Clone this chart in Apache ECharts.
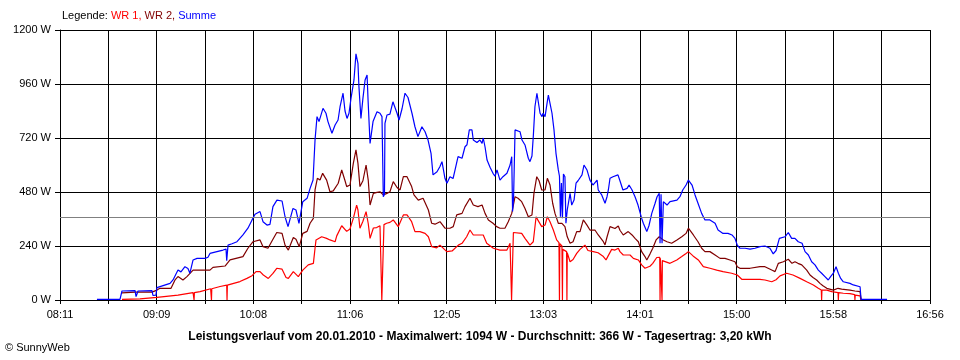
<!DOCTYPE html>
<html><head><meta charset="utf-8">
<script src="https://cdn.jsdelivr.net/npm/echarts@6/dist/echarts.min.js"></script>
<style>html,body{margin:0;padding:0;background:#fff}#c{width:960px;height:360px}</style>
</head><body><div id="c"></div>
<script>
// time in minutes after midnight, values in W
const startMinute = 491; // 08:11
const endMinute = 1016;  // 16:56
const xTickLabels = ['08:11','09:09','10:08','11:06','12:05','13:03','14:01','15:00','15:58','16:56'];
const averageW = 366;
const seriesNames = ['WR 1', 'WR 2', 'Summe'];

const wr1Points = [[528.4,3],[539.3,5],[549.5,12],[562.2,22],[571.3,33],[571.7,33],[571.9,0],[572.1,33],[575.5,37],[581.9,50],[582.2,50],[582.4,0],[582.6,50],[587.6,60],[591.6,66],[591.8,0],[592.0,66],[592.4,70],[599.6,82],[603.8,96],[606.9,108],[608.1,111],[609.3,126],[611.7,126],[613.7,111],[616.7,96],[619.5,118],[621.8,141],[622.7,145],[625.0,137],[627.4,100],[628.8,96],[631.8,126],[634.8,104],[637.5,133],[640.8,156],[643.9,163],[644.9,230],[645.5,267],[648.9,281],[651.9,274],[653.9,267],[657.0,259],[658.0,285],[661.0,330],[664.0,305],[666.0,316],[668.0,363],[670.0,422],[670.8,400],[672.0,319],[673.8,350],[675.7,393],[677.0,340],[678.1,274],[680.1,320],[682.1,322],[684.1,330],[685.0,326],[685.2,0],[686.3,0],[686.5,335],[688.1,341],[690.1,345],[692.1,356],[695.1,326],[698.2,378],[700.4,378],[703.2,348],[705.2,304],[708.2,304],[711.3,296],[713.3,281],[715.3,237],[718.3,232],[720.3,244],[721.3,244],[724.4,215],[727.6,218],[731.4,244],[733.6,252],[736.4,281],[738.4,311],[740.4,289],[746.4,289],[748.5,252],[752.5,230],[756.5,222],[760.7,222],[762.6,252],[763.4,252],[763.5,0],[764.5,0],[764.6,300],[765.6,304],[769.6,296],[771.6,274],[774.6,244],[776.6,259],[778.3,370],[779.4,355],[781.7,326],[783.7,333],[785.1,370],[786.7,348],[788.7,311],[790.7,267],[792.1,255],[792.3,255],[792.4,0],[792.6,250],[793.9,240],[794.1,240],[794.2,0],[794.4,225],[796.7,215],[796.8,215],[796.9,0],[797.1,210],[798.8,170],[800.6,180],[802.8,207],[804.8,225],[807.8,244],[809.6,220],[812.8,215],[815.7,210],[818.9,193],[820.5,178],[821.7,195],[823.9,225],[825.9,222],[827.9,230],[828.9,215],[830.9,200],[835.0,200],[837.0,185],[840.0,178],[842.0,156],[844.0,141],[845.1,133],[847.0,150],[848.7,163],[851.1,189],[852.9,190],[853.1,0],[853.3,185],[854.1,180],[854.3,0],[854.5,175],[855.1,170],[859.1,163],[863.2,178],[866.2,193],[868.8,207],[870.2,215],[873.0,196],[876.2,178],[879.2,148],[883.2,141],[887.3,133],[891.1,126],[896.3,119],[899.7,111],[902.4,92],[907.4,92],[913.4,92],[916.4,89],[920.5,81],[921.4,78],[923.1,90],[925.5,107],[929.5,119],[933.3,111],[937.6,96],[941.6,81],[945.6,67],[948.6,52],[950.4,44],[950.6,0],[950.8,44],[953.7,44],[956.7,37],[960.5,33],[960.7,0],[960.9,33],[963.7,30],[967.7,28],[970.5,24],[970.7,0],[970.9,22],[973.8,18],[974.4,0]];

const wr2Points = [[528.4,32],[536.3,35],[546.5,35],[549.5,44],[551.3,52],[558.0,52],[560.4,89],[562.2,104],[565.2,89],[567.6,104],[571.3,133],[578.5,133],[581.5,133],[583.3,145],[590.6,151],[593.6,178],[601.4,193],[604.4,230],[607.5,259],[611.7,267],[613.5,237],[616.5,230],[619.5,270],[621.8,300],[625.0,296],[626.8,244],[628.8,222],[631.8,278],[633.4,270],[635.4,237],[637.5,296],[640.1,305],[641.9,341],[643.9,363],[644.9,489],[646.3,541],[647.9,533],[649.5,563],[651.9,533],[653.9,481],[655.9,485],[658.9,519],[661.0,578],[663.0,530],[664.0,504],[666.0,511],[668.0,607],[669.6,667],[670.8,607],[672.0,504],[673.8,530],[675.7,600],[677.0,533],[678.1,422],[680.1,474],[682.3,478],[684.1,481],[686.1,467],[688.3,474],[690.1,481],[692.1,526],[694.4,500],[696.2,489],[698.2,548],[700.4,548],[703.2,504],[704.6,467],[707.2,444],[710.1,452],[713.3,400],[715.3,341],[717.3,337],[720.3,348],[721.3,356],[723.3,319],[726.3,319],[728.3,326],[730.4,378],[733.6,385],[735.4,415],[738.4,452],[740.4,422],[743.2,415],[745.7,422],[747.5,385],[749.5,356],[752.3,341],[754.5,326],[756.5,319],[759.5,319],[761.5,348],[763.6,385],[765.6,459],[767.4,452],[769.6,437],[771.6,407],[773.6,370],[775.8,378],[777.0,474],[778.7,548],[780.1,530],[781.7,489],[783.7,489],[785.1,541],[786.7,511],[788.3,430],[789.7,385],[791.7,341],[793.9,341],[795.7,326],[797.1,281],[798.8,252],[800.6,259],[802.8,304],[804.8,304],[806.8,356],[809.0,333],[810.8,311],[813.8,311],[815.8,289],[818.9,259],[819.9,245],[821.1,280],[822.9,326],[825.9,318],[827.9,329],[828.9,310],[830.9,289],[833.9,304],[836.2,289],[838.0,274],[840.0,259],[842.0,215],[844.0,193],[845.1,178],[847.0,204],[848.7,230],[850.7,267],[852.6,281],[855.1,267],[857.3,259],[860.1,252],[863.3,267],[866.2,281],[868.8,296],[870.2,319],[873.2,289],[876.0,259],[878.2,230],[880.2,215],[883.2,215],[886.3,200],[889.3,185],[892.3,185],[895.3,178],[898.3,170],[899.7,148],[901.3,141],[907.4,141],[913.4,148],[916.4,148],[920.5,133],[922.5,126],[924.5,163],[927.5,170],[930.5,181],[932.7,163],[934.5,170],[936.3,163],[938.6,156],[941.6,133],[943.6,111],[945.4,100],[947.6,89],[949.6,74],[951.4,63],[953.7,52],[957.7,44],[960.5,52],[962.7,48],[967.7,44],[970.7,40],[973.8,37],[974.4,0]];

const summePoints = [[513.3,3],[527.2,3],[528.4,40],[536.3,42],[536.9,15],[538.1,40],[546.5,42],[547.1,20],[548.9,22],[549.5,55],[550.7,59],[557.4,74],[559.2,89],[562.2,133],[564.0,125],[566.4,148],[568.2,140],[569.4,119],[571.3,178],[573.7,185],[578.5,185],[580.3,190],[581.5,207],[585.7,215],[589.4,222],[591.2,226],[591.6,175],[592.4,244],[594.8,250],[597.8,259],[601.4,289],[604.4,319],[606.9,356],[608.7,381],[611.7,393],[613.5,348],[615.9,333],[617.7,336],[619.5,415],[621.9,444],[625.0,440],[626.8,370],[628.6,326],[631.6,407],[633.4,400],[635.2,341],[637.5,437],[640.1,452],[641.9,496],[643.7,533],[644.9,711],[646.1,815],[647.3,793],[649.7,852],[651.5,830],[652.7,793],[655.1,741],[657.0,778],[658.8,800],[660.0,859],[661.8,919],[663.0,840],[664.2,807],[665.4,830],[666.6,896],[667.8,900],[668.4,978],[669.6,1094],[670.8,1052],[671.4,948],[672.6,807],[673.8,896],[675.1,978],[676.3,1000],[676.9,889],[678.1,696],[679.3,700],[679.9,793],[682.3,837],[684.1,830],[685.3,815],[686.1,459],[686.8,470],[687.1,785],[688.3,822],[690.1,826],[691.9,881],[694.4,830],[695.6,800],[697.4,850],[699.2,919],[701.0,900],[703.4,830],[705.2,770],[707.0,726],[709.4,770],[711.3,748],[713.1,711],[714.9,652],[716.1,556],[718.5,570],[720.3,593],[721.5,615],[722.4,578],[723.3,541],[724.5,519],[726.3,548],[728.2,540],[729.4,578],[731.2,637],[733.6,630],[735.4,681],[736.6,690],[738.0,756],[739.6,756],[740.4,711],[742.6,700],[744.4,711],[745.7,696],[746.4,720],[747.5,680],[748.7,622],[750.5,590],[752.3,563],[753.5,550],[754.7,578],[756.5,533],[758.3,548],[760.7,563],[762.6,600],[763.6,637],[764.1,393],[764.7,450],[765.6,756],[766.8,763],[768.6,748],[769.8,711],[771.6,689],[772.8,696],[773.6,630],[774.6,615],[775.8,640],[776.6,726],[777.6,859],[778.8,919],[779.4,911],[780.7,830],[781.9,815],[782.5,830],[783.7,815],[784.9,874],[785.7,911],[786.7,874],[787.9,830],[789.1,756],[790.3,652],[791.7,578],[792.4,550],[793.0,370],[793.6,520],[794.2,363],[794.8,560],[795.7,548],[796.3,341],[797.1,400],[798.8,474],[799.8,422],[801.2,444],[802.4,519],[803.6,530],[806.0,556],[807.2,600],[809.0,578],[810.8,533],[812.6,511],[815.1,533],[815.8,489],[817.9,467],[819.9,430],[821.1,459],[821.9,489],[822.9,541],[824.7,548],[827.7,556],[828.9,530],[830.7,489],[833.2,496],[834.4,511],[836.2,489],[838.0,459],[839.8,422],[842.0,363],[843.0,341],[845.1,304],[846.4,330],[848.1,385],[850.1,430],[851.3,459],[852.6,474],[853.1,252],[853.7,470],[854.3,252],[855.1,437],[857.3,422],[859.1,437],[863.3,444],[865.1,459],[866.8,489],[868.8,511],[870.2,533],[872.4,511],[874.2,467],[876.0,430],[878.2,385],[880.2,356],[883.2,356],[886.3,341],[888.1,311],[891.1,296],[894.1,296],[896.5,289],[898.3,274],[899.7,244],[901.3,230],[904.4,230],[907.4,226],[910.4,230],[913.4,237],[916.4,240],[919.4,230],[921.4,205],[923.1,220],[925.1,274],[928.5,281],[930.5,300],[932.5,274],[934.5,274],[936.5,259],[938.8,252],[940.6,215],[942.6,200],[944.6,170],[946.6,156],[948.6,133],[950.6,119],[952.6,104],[954.6,89],[956.0,104],[957.7,119],[959.3,148],[960.7,119],[962.1,96],[963.7,81],[967.7,74],[969.7,67],[973.8,59],[974.4,3],[990.1,3]];

const colors = ['#ff0000', '#800000', '#0000ff'];
const span = endMinute - startMinute;
const step = span / (xTickLabels.length - 1);
const shift = pts => pts.map(d => [d[0] - startMinute, d[1]]);
const font = 'Liberation Sans, Arial, sans-serif';

const chart = echarts.init(document.getElementById('c'), null, {renderer: 'canvas'});
const lineSeries = (name, pts, color, extra) => Object.assign({
  name, type: 'line', data: shift(pts), showSymbol: false, symbol: 'none',
  lineStyle: {color, width: 1.2}, itemStyle: {color}, silent: true
}, extra || {});
const rich = c => ({color: c, fontSize: 11, fontWeight: 'normal', fontFamily: font});

chart.setOption({
  animation: false,
  backgroundColor: '#ffffff',
  textStyle: {fontFamily: font},
  title: {
    left: 57, top: 5,
    text: '{k|Legende: }{a|' + seriesNames[0] + ', }{b|' + seriesNames[1] + ', }{c|' + seriesNames[2] + '}',
    textStyle: {fontWeight: 'normal', fontSize: 11, rich: {k: rich('#000'), a: rich(colors[0]), b: rich(colors[1]), c: rich(colors[2])}}
  },
  grid: {left: 60, right: 30, top: 30, bottom: 60, containLabel: false},
  xAxis: {
    type: 'value', min: 0, max: span, interval: step,
    axisLine: {lineStyle: {color: '#000', width: 1}},
    axisTick: {length: 4, lineStyle: {color: '#000'}},
    minorTick: {show: true, splitNumber: 2, length: 4, lineStyle: {color: '#000'}},
    splitLine: {show: true, lineStyle: {color: '#000', width: 1}},
    minorSplitLine: {show: true, lineStyle: {color: '#000', width: 1}},
    axisLabel: {color: '#000', fontSize: 11, margin: 9, fontFamily: font, showMaxLabel: true, showMinLabel: true,
      formatter: v => xTickLabels[Math.round(v / step)] || ''}
  },
  yAxis: {
    type: 'value', min: 0, max: 1200, interval: 240,
    axisLine: {show: true, lineStyle: {color: '#000', width: 1}},
    axisTick: {show: true, length: 5, lineStyle: {color: '#000'}},
    splitLine: {show: true, lineStyle: {color: '#000', width: 1}},
    axisLabel: {color: '#000', fontSize: 11, margin: 9, fontFamily: font, formatter: v => v + ' W'}
  },
  series: [
    lineSeries(seriesNames[0], wr1Points, colors[0], {
      markLine: {silent: true, symbol: 'none', label: {show: false},
        lineStyle: {color: '#808080', type: 'solid', width: 1},
        data: [{yAxis: averageW}]}
    }),
    lineSeries(seriesNames[1], wr2Points, colors[1]),
    lineSeries(seriesNames[2], summePoints, colors[2])
  ],
  graphic: [
    {type: 'text', x: 480, y: 337, style: {
      text: 'Leistungsverlauf vom 20.01.2010 - Maximalwert: 1094 W - Durchschnitt: ' + averageW + ' W - Tagesertrag: 3,20 kWh',
      font: 'bold 12px ' + font, fill: '#000', align: 'center', verticalAlign: 'middle'}},
    {type: 'text', x: 5, y: 348, style: {
      text: '\u00A9 SunnyWeb', font: '11px ' + font, fill: '#000', align: 'left', verticalAlign: 'middle'}}
  ]
});
</script>
</body></html>
